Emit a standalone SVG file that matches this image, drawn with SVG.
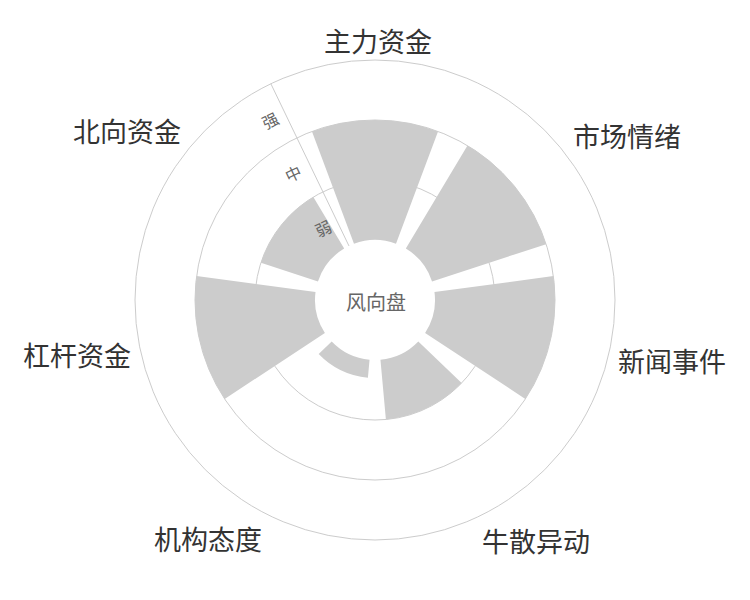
<svg xmlns="http://www.w3.org/2000/svg" width="750" height="600" viewBox="0 0 750 600">
<style>
.grid{fill:none;stroke:#cccccc;stroke-width:1}
.bar{fill:#cccccc}
.cat{font-family:"Noto Sans CJK SC",sans-serif;font-size:27px;fill:#333;text-anchor:middle;dominant-baseline:central}
.ax{font-family:"Noto Sans CJK SC",sans-serif;font-size:16px;fill:#666;text-anchor:middle;dominant-baseline:central}
</style>
<rect width="750" height="600" fill="#fff"/>
<g id="grid">
<circle class="grid" cx="375" cy="300" r="120"/>
<circle class="grid" cx="375" cy="300" r="180"/>
<circle class="grid" cx="375" cy="300" r="240"/>
<line class="grid" x1="348.97" y1="245.94" x2="270.86" y2="83.76"/>
</g>
<g id="bars">
<path id="bar-zhuli" class="bar" d="M311.97,131.4 A180,180 0 0 1 438.03,131.4 L396.01,243.8 A60,60 0 0 0 353.99,243.8 Z"/>
<path id="bar-shichang" class="bar" d="M467.5,145.6 A180,180 0 0 1 546.13,244.16 L432.04,281.39 A60,60 0 0 0 405.83,248.53 Z"/>
<path id="bar-xinwen" class="bar" d="M553.4,276.08 A180,180 0 0 1 525.34,398.96 L425.11,332.99 A60,60 0 0 0 434.47,292.03 Z"/>
<path id="bar-niusan" class="bar" d="M461.63,383.04 A120,120 0 0 1 385.9,419.51 L380.45,359.75 A60,60 0 0 0 418.31,341.52 Z"/>
<path id="bar-jigou" class="bar" d="M367.92,377.68 A78,78 0 0 1 318.69,353.98 L331.69,341.52 A60,60 0 0 0 369.55,359.75 Z"/>
<path id="bar-ganggan" class="bar" d="M224.66,398.96 A180,180 0 0 1 196.6,276.08 L315.53,292.03 A60,60 0 0 0 324.89,332.99 Z"/>
<path id="bar-beixiang" class="bar" d="M260.92,262.78 A120,120 0 0 1 313.33,197.06 L344.17,248.53 A60,60 0 0 0 317.96,281.39 Z"/>
</g>
<g id="hub">
<text x="376" y="301" font-family="Noto Sans CJK SC,sans-serif" font-size="20" fill="#666" text-anchor="middle" dominant-baseline="central">风向盘</text>
</g>
<g id="axis-labels">
<text class="ax" transform="translate(270,120) rotate(-25.7)">强</text>
<text class="ax" transform="translate(293,173) rotate(-25.7)">中</text>
<text class="ax" transform="translate(323,228) rotate(-25.7)">弱</text>
</g>
<g id="categories">
<text class="cat" x="378" y="40">主力资金</text>
<text class="cat" x="627" y="135">市场情绪</text>
<text class="cat" x="672" y="360">新闻事件</text>
<text class="cat" x="536" y="540">牛散异动</text>
<text class="cat" x="208" y="538">机构态度</text>
<text class="cat" x="77" y="354">杠杆资金</text>
<text class="cat" x="127" y="130">北向资金</text>
</g>
</svg>
